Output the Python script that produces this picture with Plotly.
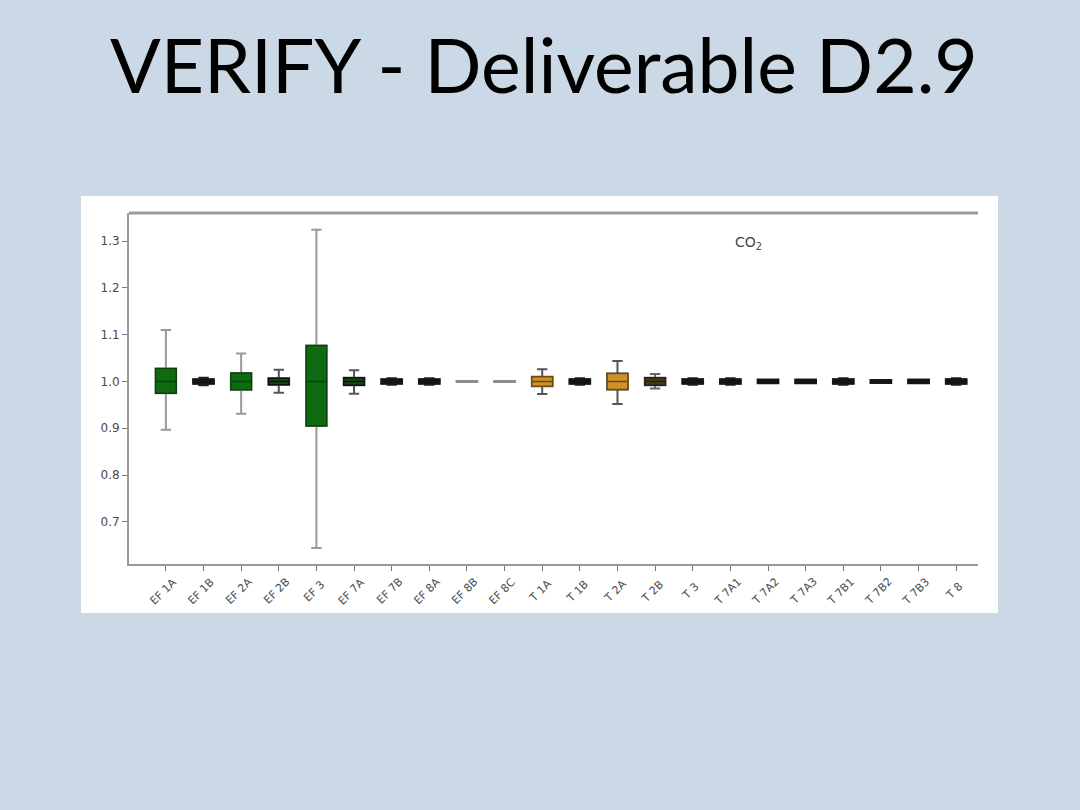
import plotly.graph_objects as go

# ---- data ----
categories = ["EF 1A", "EF 1B", "EF 2A", "EF 2B", "EF 3", "EF 7A", "EF 7B", "EF 8A",
              "EF 8B", "EF 8C", "T 1A", "T 1B", "T 2A", "T 2B", "T 3", "T 7A1",
              "T 7A2", "T 7A3", "T 7B1", "T 7B2", "T 7B3", "T 8"]
q1_vals = [0.975, 0.995, 0.982, 0.993, 0.905, 0.992, 0.995, 0.995, 0.999, 0.999, 0.990,
           0.995, 0.983, 0.992, 0.995, 0.995, 0.996, 0.996, 0.995, 0.997, 0.996, 0.995]
median_vals = [1.0] * 22
q3_vals = [1.028, 1.005, 1.018, 1.007, 1.077, 1.008, 1.005, 1.005, 1.001, 1.001, 1.010,
           1.005, 1.017, 1.008, 1.005, 1.005, 1.004, 1.004, 1.005, 1.003, 1.004, 1.005]
lower_vals = [0.897, 0.992, 0.931, 0.976, 0.644, 0.974, 0.993, 0.993, 0.999, 0.999, 0.973,
              0.993, 0.952, 0.985, 0.993, 0.993, 0.996, 0.996, 0.993, 0.997, 0.996, 0.993]
upper_vals = [1.110, 1.008, 1.060, 1.025, 1.324, 1.024, 1.007, 1.007, 1.001, 1.001, 1.026,
              1.007, 1.044, 1.016, 1.007, 1.007, 1.004, 1.004, 1.007, 1.003, 1.004, 1.007]
y_ticks = [0.7, 0.8, 0.9, 1.0, 1.1, 1.2, 1.3]
title_text = "VERIFY - Deliverable D2.9"
panel_label = "CO<sub>2</sub>"

# ---- styles ----
GREEN = dict(fill="#0f6b12", edge="#0b3f0d", whisker="#999999")
DKGREEN = dict(fill="#0f4a12", edge="#111111", whisker="#555555")
BLACK = dict(fill="#151515", edge="#151515", whisker="#222222")
GRAY = dict(fill="#8c8c8c", edge="#8c8c8c", whisker="#8c8c8c")
ORANGE = dict(fill="#cf9226", edge="#6b4a12", whisker="#555555")
ORANGE2 = dict(fill="#4a3a10", edge="#222222", whisker="#666666")
style_for = {
    "EF 1A": GREEN, "EF 2A": GREEN, "EF 3": GREEN, "EF 2B": DKGREEN, "EF 7A": DKGREEN,
    "EF 8B": GRAY, "EF 8C": GRAY, "T 1A": ORANGE, "T 2A": ORANGE, "T 2B": ORANGE2,
}

fig = go.Figure()
BOXW = 0.55
for i, cat in enumerate(categories):
    st = style_for.get(cat, BLACK)
    # whiskers
    fig.add_trace(go.Box(
        x=[cat], q1=[q1_vals[i]], median=[median_vals[i]], q3=[q3_vals[i]],
        lowerfence=[lower_vals[i]], upperfence=[upper_vals[i]],
        width=BOXW, whiskerwidth=0.5, fillcolor="rgba(0,0,0,0)",
        line=dict(color=st["whisker"], width=2), boxpoints=False,
        hoverinfo="skip", showlegend=False))
    # box body
    fig.add_trace(go.Box(
        x=[cat], q1=[q1_vals[i]], median=[median_vals[i]], q3=[q3_vals[i]],
        lowerfence=[q1_vals[i]], upperfence=[q3_vals[i]],
        width=BOXW, whiskerwidth=0, fillcolor=st["fill"],
        line=dict(color=st["edge"], width=1.4), boxpoints=False,
        showlegend=False))

L, R, T, B = 129, 978, 213, 564
W, H = 1080, 810
pw, ph = R - L, B - T

def px_x(x):
    return (x - L) / pw

def px_y(y):
    return (B - y) / ph

# category labels centred under their ticks, rotated 45 degrees (matplotlib style)
label_annotations = [
    dict(text=cat, xref="x", yref="paper", x=i - 0.07, y=px_y(591),
         xanchor="center", yanchor="middle", textangle=-45, showarrow=False,
         font=dict(family="DejaVu Sans", size=11, color="#4a4a4a"))
    for i, cat in enumerate(categories)
]

fig.update_layout(
    width=W, height=H,
    margin=dict(l=L, r=W - R, t=T, b=H - B, pad=0),
    paper_bgcolor="#cbd8e6", plot_bgcolor="#ffffff",
    boxmode="overlay",
    font=dict(family="DejaVu Sans", color="#444444"),
    xaxis=dict(
        categoryorder="array", categoryarray=categories,
        range=[-0.98, 21.58], showgrid=False, zeroline=False,
        showline=True, linecolor="#9a9a9a", linewidth=2,
        ticks="outside", ticklen=5, tickcolor="#777777",
        showticklabels=False,
    ),
    yaxis=dict(
        range=[0.61, 1.36], tickvals=y_ticks, ticktext=[f"{v:.1f}" for v in y_ticks],
        showgrid=False, zeroline=False,
        showline=True, linecolor="#9a9a9a", linewidth=2,
        ticks="outside", ticklen=5, tickcolor="#777777",
        tickfont=dict(size=12, color="#4a4a4a"),
    ),
    shapes=[
        dict(type="rect", xref="paper", yref="paper", layer="below",
             x0=px_x(81), x1=px_x(998), y0=px_y(613), y1=px_y(196),
             fillcolor="#ffffff", line=dict(width=0)),
        dict(type="line", xref="paper", yref="paper", layer="above",
             x0=0, x1=1, y0=1, y1=1, line=dict(color="#9a9a9a", width=3)),
    ],
    annotations=[
        dict(text=title_text, xref="paper", yref="paper", x=px_x(544), y=px_y(64),
             xanchor="center", yanchor="middle", showarrow=False,
             font=dict(family="Lato", size=75, color="#000000")),
        dict(text=panel_label, xref="paper", yref="paper", x=px_x(748), y=px_y(243),
             xanchor="center", yanchor="middle", showarrow=False,
             font=dict(family="DejaVu Sans", size=14, color="#444444")),
    ] + label_annotations,
)

fig.write_html("out.html", config={"displayModeBar": False},
               post_script="document.body.style.margin='0';document.body.style.overflow='hidden';")
